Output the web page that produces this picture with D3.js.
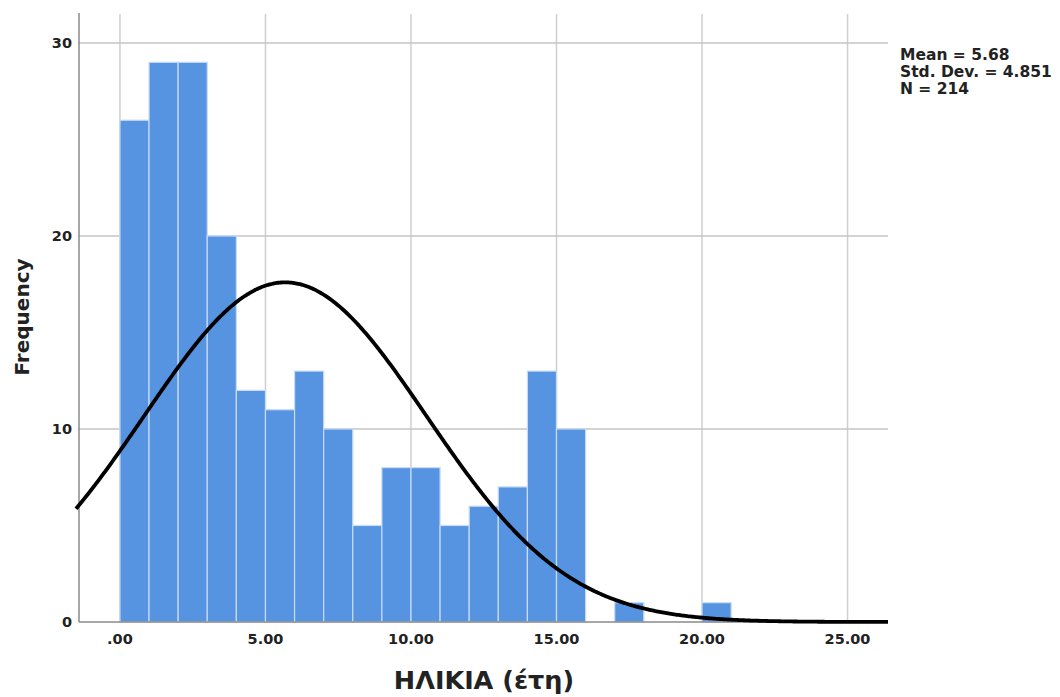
<!DOCTYPE html>
<html><head><meta charset="utf-8">
<script src="https://cdn.jsdelivr.net/npm/d3@7"></script>
<style>body{margin:0;background:#fff}</style>
</head><body>
<svg id="c" width="1060" height="697"></svg>
<script>
const binStarts = [0,1,2,3,4,5,6,7,8,9,10,11,12,13,14,15,16,17,18,19,20];
const counts    = [26,29,29,20,12,11,13,10,5,8,8,5,6,7,13,10,0,1,0,0,1];
const xTicks = [0,5,10,15,20,25];
const xTickLabels = [".00","5.00","10.00","15.00","20.00","25.00"];
const yTicks = [0,10,20,30];
const statLines = ["Mean = 5.68","Std. Dev. = 4.851","N = 214"];
const mean = 5.68, sd = 4.851, n = 214, binWidth = 1;

const svg = d3.select("#c");
const font = "'DejaVu Sans', sans-serif";
const x = d3.scaleLinear().domain([-1.51, 26.39]).range([76, 888]);
const y = d3.scaleLinear().domain([0, 30]).range([622, 43]);

// vertical grid
svg.selectAll(".vg").data(xTicks).enter().append("line")
  .attr("x1", d=>x(d)).attr("x2", d=>x(d)).attr("y1", 14).attr("y2", 622)
  .attr("stroke", "#cfcfcf").attr("stroke-width", 1.5);
// horizontal grid
svg.selectAll(".hg").data(yTicks.filter(d=>d>0)).enter().append("line")
  .attr("x1", 79).attr("x2", 888).attr("y1", d=>y(d)).attr("y2", d=>y(d))
  .attr("stroke", "#c4c4c4").attr("stroke-width", 1.5);

// bars
const bars = binStarts.map((s,i)=>({s, c: counts[i]})).filter(d=>d.c>0);
svg.selectAll(".bar").data(bars).enter().append("rect")
  .attr("x", d=>x(d.s)).attr("width", d=>x(d.s+binWidth)-x(d.s))
  .attr("y", d=>y(d.c)).attr("height", d=>y(0)-y(d.c))
  .attr("fill", "#5694e2").attr("stroke", "#c6dbf5").attr("stroke-width", 1.2);

// axes lines
svg.append("line").attr("x1",79).attr("x2",79).attr("y1",13).attr("y2",622)
  .attr("stroke","#8a8a8a").attr("stroke-width",1.5);
svg.append("line").attr("x1",79).attr("x2",888).attr("y1",622).attr("y2",622)
  .attr("stroke","#8a8a8a").attr("stroke-width",1.5);

// normal curve
const curveXs = d3.range(-1.51, 26.40, 0.05);
const pdf = v => n*binWidth/(sd*Math.sqrt(2*Math.PI))*Math.exp(-0.5*((v-mean)/sd)**2);
svg.append("path").datum(curveXs)
  .attr("d", d3.line().x(d=>x(d)).y(d=>y(pdf(d))).curve(d3.curveBasis))
  .attr("fill","none").attr("stroke","#000").attr("stroke-width",3.8);

// tick labels
svg.selectAll(".xt").data(xTicks).enter().append("text")
  .attr("x", d=>x(d)).attr("y", 644).attr("text-anchor","middle")
  .attr("font-family", font).attr("font-weight","bold").attr("font-size", 14.5)
  .attr("fill","#222").text((d,i)=>xTickLabels[i]);
svg.selectAll(".yt").data(yTicks).enter().append("text")
  .attr("x", 72).attr("y", d=>y(d)+5).attr("text-anchor","end")
  .attr("font-family", font).attr("font-weight","bold").attr("font-size", 14.5)
  .attr("fill","#222").text(d=>d);

// axis titles
svg.append("text").attr("x", 484).attr("y", 689).attr("text-anchor","middle")
  .attr("font-family", font).attr("font-weight","bold").attr("font-size", 25.5)
  .attr("fill","#222").text("ΗΛΙΚΙΑ (έτη)");
svg.append("text").attr("transform","translate(29,317) rotate(-90)").attr("text-anchor","middle")
  .attr("font-family", font).attr("font-weight","bold").attr("font-size", 20)
  .attr("fill","#222").text("Frequency");

// stats
svg.selectAll(".st").data(statLines).enter().append("text")
  .attr("x", 900).attr("y", (d,i)=>60+i*17)
  .attr("font-family", font).attr("font-weight","bold").attr("font-size", 15.5)
  .attr("fill","#222").text(d=>d);
</script>
</body></html>
